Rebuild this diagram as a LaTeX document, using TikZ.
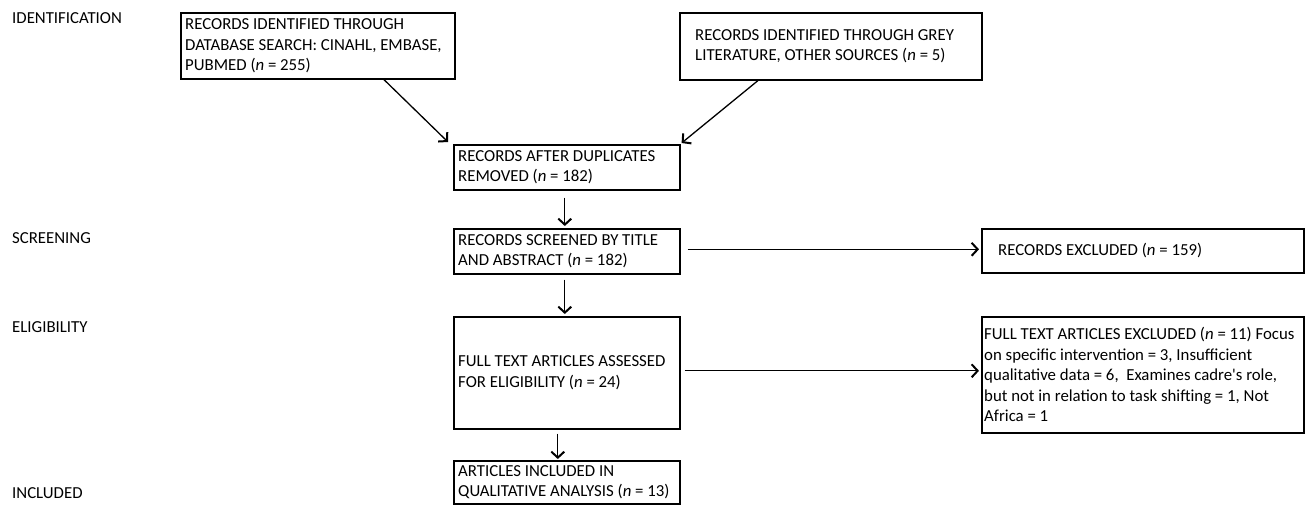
\documentclass[tikz,border=0pt]{standalone}
\usepackage{fontspec}
\setmainfont{Carlito}
\usetikzlibrary{arrows.meta,calc}
\tikzset{
  frame/.style={draw, line width=1.6pt, anchor=north west, inner sep=0pt},
  txt/.style={anchor=west, align=left, inner sep=0pt,
    font=\fontsize{16.8}{20.5}\selectfont},
  phase/.style={anchor=base west, inner sep=0pt, font=\fontsize{16.8}{20.5}\selectfont},
  flow/.style={line width=1.3pt, -{Straight Barb[length=6pt,width=13pt,line width=2pt]}},
}
% box: name, left, top, width, height, text indent, text
\newcommand{\flowbox}[7]{%
  \node[frame, minimum width=#4, minimum height=#5] (#1) at (#2,#3) {};
  \node[txt] (#1-text) at ($(#1.west)+(#6,0)$) {#7};}
\begin{document}
\begin{tikzpicture}[x=1pt, y=-1pt]
\useasboundingbox (0,0) rectangle (1311,504);

% phase labels
\node[phase] (lid) at (12,23.5)  {IDENTIFICATION};
\node[phase] (lsc) at (12,243) {SCREENING};
\node[phase] (lel) at (12,332) {ELIGIBILITY};
\node[phase] (lin) at (12,498) {INCLUDED};

% boxes
\flowbox{db}{180}{12}{274}{66}{5}{RECORDS IDENTIFIED THROUGH\\DATABASE SEARCH: CINAHL, EMBASE,\\PUBMED (\textit{n} = 255)}
\flowbox{grey}{679}{12}{302}{67}{16}{RECORDS IDENTIFIED THROUGH GREY\\LITERATURE, OTHER SOURCES (\textit{n} = 5)}
\flowbox{dup}{453}{144}{226}{45}{5}{RECORDS AFTER DUPLICATES\\REMOVED (\textit{n} = 182)}
\flowbox{scr}{453}{228}{226}{45}{5}{RECORDS SCREENED BY TITLE\\AND ABSTRACT (\textit{n} = 182)}
\flowbox{full}{453}{316}{226}{112}{5}{FULL TEXT ARTICLES ASSESSED\\FOR ELIGIBILITY (\textit{n} = 24)}
\flowbox{inc}{453}{460}{226}{43}{5}{ARTICLES INCLUDED IN\\QUALITATIVE ANALYSIS (\textit{n} = 13)}
\flowbox{rexc}{981}{228}{322}{44}{17}{RECORDS EXCLUDED (\textit{n} = 159)}
\flowbox{fexc}{981}{316}{322}{116}{3}{FULL TEXT ARTICLES EXCLUDED (\textit{n} = 11) Focus\\on specific intervention = 3, Insufficient\\qualitative data = 6,~ Examines cadre\textquotesingle s role,\\but not in relation to task shifting = 1, Not\\Africa = 1}

% connectors
\draw[flow] ($(db.south west)!0.74!(db.south east)$) -- ($(dup.north west)+(-5,-2)$);
\draw[flow] ($(grey.south west)!0.26!(grey.south east)$) -- ($(dup.north east)+(1,-1)$);
\draw[flow] ($(dup.south)+(-2,7)$) -- ($(scr.north)+(-2,-2)$);
\draw[flow] ($(scr.south)+(-2,5)$) -- ($(full.north)+(-2,-2)$);
\draw[flow] ($(full.south)+(-9,4)$) -- ($(inc.north)+(-9,-1)$);
\coordinate (s1) at ($(scr.east)+(7,-2)$);
\draw[flow] (s1) -- ($(s1 -| rexc.west)+(-2,0)$);
\coordinate (s2) at ($(full.east)+(4,-2)$);
\draw[flow] (s2) -- ($(s2 -| fexc.west)+(-2,0)$);
\end{tikzpicture}
\end{document}
